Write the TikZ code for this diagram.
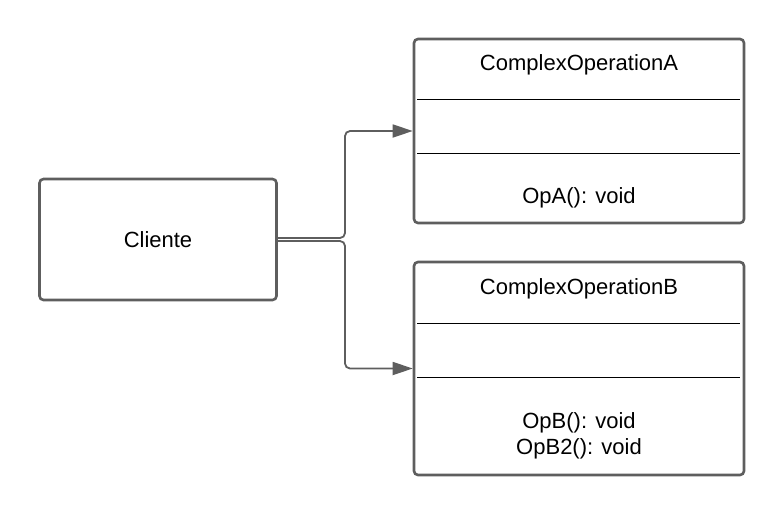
\documentclass[tikz,border=0pt]{standalone}
\usepackage{fontspec}
\setmainfont{Liberation Sans}
\usepackage{tikz}
\usetikzlibrary{arrows.meta}
\definecolor{rand}{HTML}{5E5E5E}

\begin{document}
\begin{tikzpicture}[x=1pt,y=-1pt,
  box/.style={draw=rand,line width=2.6pt,rounded corners=4pt,inner sep=0pt},
  txt/.style={font=\fontsize{22}{26}\selectfont,inner sep=0pt,align=center},
  sep/.style={line width=0.9pt,black},
  conn/.style={draw=rand,line width=1.8pt,rounded corners=5pt,-{Triangle[length=20pt,width=13pt]}}]
\useasboundingbox (0,0) rectangle (783,515);

\node [box,minimum width=237pt,minimum height=121pt] (cli) at (158,239.5) {};
\node [txt] (clitxt) at (158,240) {Cliente};

\node [box,minimum width=330pt,minimum height=184pt] (ca) at (579,131) {};
\node [txt] (catitle) at (579,65) {ComplexOperationA};
\draw [sep] (417,99) -- (740,99);
\draw [sep] (417,153) -- (740,153);
\node [txt] (caop) at (579,198) {OpA(): void};

\node [box,minimum width=330pt,minimum height=213pt] (cb) at (579,368.5) {};
\node [txt] (cbtitle) at (579,289) {ComplexOperationB};
\draw [sep] (417,323) -- (740,323);
\draw [sep] (417,377) -- (740,377);
\node [txt] (cbop) at (579,435.5) {OpB(): void\\OpB2(): void};

\draw [conn] ([yshift=1.5pt]cli.east) -- (345,238) |- (ca.west);
\draw [conn] ([yshift=-1.5pt]cli.east) -- (345,241) |- (cb.west);

\end{tikzpicture}
\end{document}
